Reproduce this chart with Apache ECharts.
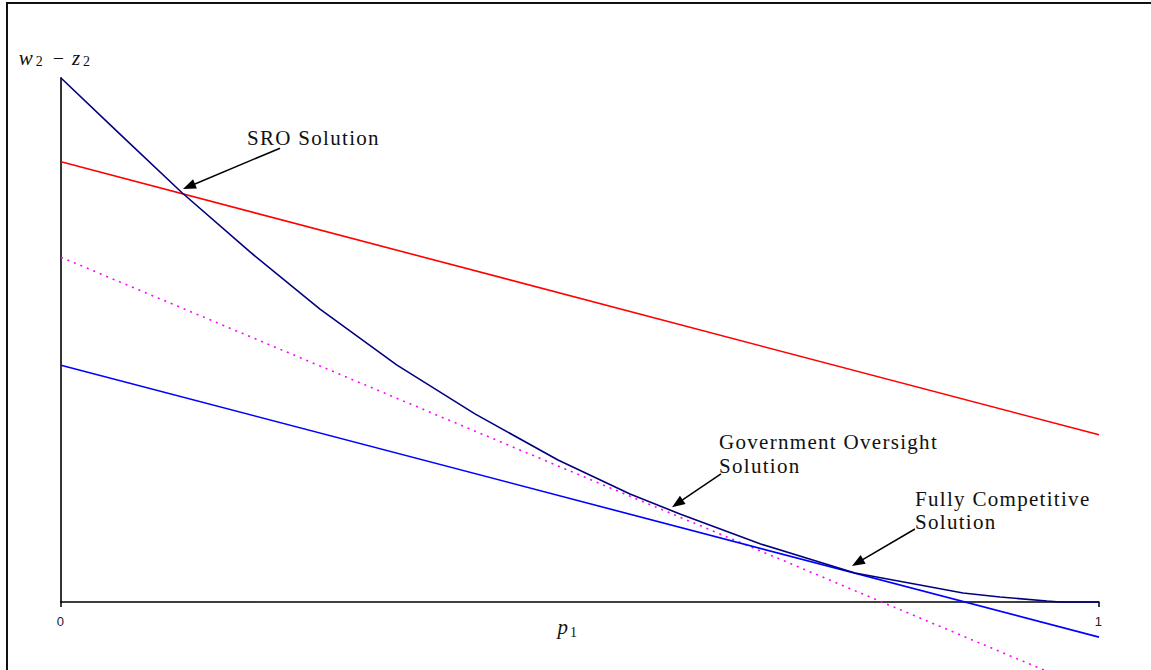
<!DOCTYPE html>
<html>
<head>
<meta charset="utf-8">
<script src="https://cdn.jsdelivr.net/npm/echarts@6/dist/echarts.min.js"></script>
<style>
  html, body { margin: 0; padding: 0; background: #fff; }
  #chart { width: 1151px; height: 670px; }
  #chart svg text { letter-spacing: 1.3px; }
</style>
</head>
<body>
<div id="chart"></div>
<script>
// ---- data ----
const xTicks = ['0', '1'];
// dark navy curve
const curveP = [0, 0.0568, 0.1166, 0.1821, 0.2495, 0.3237, 0.3988, 0.4788, 0.5482, 0.5963, 0.6734, 0.7649, 0.8275, 0.8690, 0.9046, 0.9499, 0.9624, 1];
const curveW = [1.0, 0.893, 0.781, 0.668, 0.559, 0.452, 0.359, 0.271, 0.206, 0.168, 0.111, 0.0553, 0.0324, 0.0172, 0.0095, 0.0019, 0, 0];
// red line
const redP = [0, 1];
const redW = [0.840, 0.319];
// magenta dotted line
const magentaP = [0, 1];
const magentaW = [0.658, -0.174];
// blue line
const blueP = [0, 1];
const blueW = [0.452, -0.067];
// annotation texts
const annoSRO = ['SRO Solution'];
const annoGov = ['Government Oversight', 'Solution'];
const annoFull = ['Fully Competitive', 'Solution'];

const pairs = (xs, ys) => xs.map((x, i) => [x, ys[i]]);

const chart = echarts.init(document.getElementById('chart'), null, { renderer: 'svg' });

const serif = "'Liberation Serif', 'Times New Roman', serif";
const annoStyle = { fontFamily: serif, fontSize: 21, fill: '#111' };

function annoTexts(lines, x, y0, lh) {
  return lines.map((t, i) => ({
    type: 'text', x: x, y: y0 + i * lh, silent: true,
    style: Object.assign({ text: t, x: 0, y: 0, verticalAlign: 'middle', align: 'left' }, annoStyle)
  }));
}

const option = {
  animation: false,
  backgroundColor: '#fff',
  grid: { left: 61, right: 52, top: 78, bottom: 68, containLabel: false },
  xAxis: {
    type: 'value', min: 0, max: 1, interval: 1,
    axisLine: { onZero: false, lineStyle: { color: '#000', width: 1.5 } },
    axisTick: { show: true, length: 5, lineStyle: { color: '#000', width: 1.5 } },
    axisLabel: { margin: 13, fontFamily: 'Liberation Sans, Arial, sans-serif', fontSize: 13, color: '#222',
      formatter: v => (v === 0 ? xTicks[0] : v === 1 ? xTicks[1] : '') },
    splitLine: { show: false },
    name: '{i|p}{s|1}',
    nameLocation: 'middle', nameGap: 13, nameMoveOverlap: false,
    nameTextStyle: {
      padding: [0, 24, 0, 0],
      rich: {
        i: { fontFamily: serif, fontStyle: 'italic', fontSize: 21, color: '#111', lineHeight: 22, verticalAlign: 'bottom' },
        s: { fontFamily: serif, fontSize: 14, color: '#111', lineHeight: 16, verticalAlign: 'bottom', padding: [0, 0, -2, 2] }
      }
    }
  },
  yAxis: {
    type: 'value', min: 0, max: 1,
    axisLine: { show: true, lineStyle: { color: '#333', width: 2 } },
    axisTick: { show: false }, axisLabel: { show: false }, splitLine: { show: false },
    name: '{i|w}{s|2}{n|−}{i|z}{s|2}',
    nameLocation: 'end', nameGap: 10, nameMoveOverlap: false,
    nameTextStyle: {
      padding: [0, 10, 0, 0],
      rich: {
        i: { fontFamily: serif, fontStyle: 'italic', fontSize: 21, color: '#111', lineHeight: 22, verticalAlign: 'bottom' },
        n: { fontFamily: serif, fontSize: 20, color: '#111', lineHeight: 22, verticalAlign: 'bottom', padding: [0, 8, 0, 8] },
        s: { fontFamily: serif, fontSize: 14, color: '#111', lineHeight: 16, verticalAlign: 'bottom', padding: [0, 2, 0, 3] }
      }
    }
  },
  graphic: [
    { type: 'rect', silent: true, shape: { x: 7, y: 3, width: 1300, height: 800 },
      style: { fill: 'none', stroke: '#111', lineWidth: 2 } },
    ...annoTexts(annoSRO, 247, 138, 24),
    ...annoTexts(annoGov, 719, 442, 24),
    ...annoTexts(annoFull, 915, 499, 23)
  ],
  series: [
    { name: 'Red', type: 'line', data: pairs(redP, redW), symbol: 'none', silent: true, clip: false,
      lineStyle: { color: '#ff0000', width: 1.6 },
      markLine: {
        silent: true, symbol: ['none', 'triangle'], symbolSize: [10, 13],
        label: { show: false },
        lineStyle: { color: '#000', width: 1.5, type: 'solid' },
        data: [
          [{ coord: [0.211, 0.866] }, { coord: [0.1233, 0.793] }],
          [{ coord: [0.6358, 0.2443] }, { coord: [0.5938, 0.188] }],
          [{ coord: [0.8227, 0.1393] }, { coord: [0.7674, 0.075] }]
        ]
      }
    },
    { name: 'Magenta', type: 'line', data: pairs(magentaP, magentaW), symbol: 'none', silent: true, clip: false,
      lineStyle: { color: '#ff00ff', width: 1.6, type: [2, 5] } },
    { name: 'Blue', type: 'line', data: pairs(blueP, blueW), symbol: 'none', silent: true, clip: false,
      lineStyle: { color: '#0000ff', width: 1.6 } },
    { name: 'Navy', type: 'line', data: pairs(curveP, curveW), symbol: 'none', silent: true, clip: false,
      lineStyle: { color: '#000080', width: 1.6 } }
  ]
};
chart.setOption(option);
</script>
</body>
</html>
